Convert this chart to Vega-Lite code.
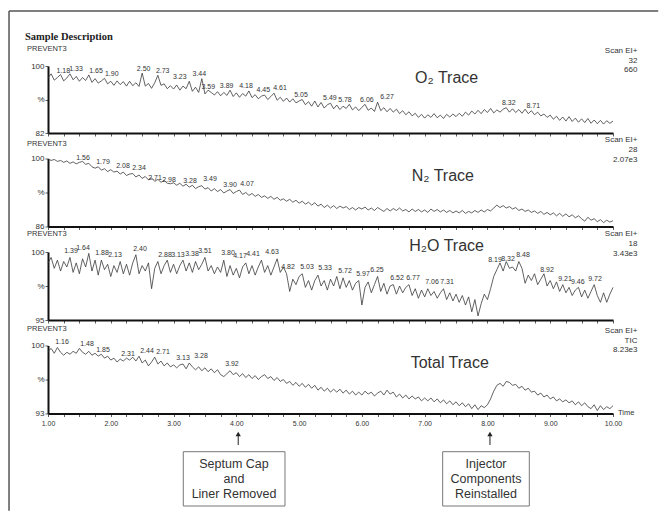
{
"$schema":"https://vega.github.io/schema/vega-lite/v6.json",
"padding":{"left":8,"top":10,"right":0,"bottom":0},
"background":"white",
"bounds":"flush",
"spacing":25.5,
"config":{"view":{"stroke":null},"axis":{"grid":false,"domainColor":"#111","domainWidth":2,"tickColor":"#333","tickWidth":0.8,"labelColor":"#333","labelFont":"Liberation Sans"},"text":{"font":"Liberation Sans"}},
"datasets":{
"tr":[
{"t":1.00,"o":96.8,"n":99.9,"h":99.2,"c":99.4},{"t":1.05,"o":97.9,"n":99.6,"h":99.6,"c":99.7},{"t":1.10,"o":96.2,"n":99.8,"h":98.8,"c":99.2},{"t":1.15,"o":96.9,"n":99.4,"h":99.4,"c":99.8},{"t":1.20,"o":97.7,"n":99.6,"h":98.6,"c":99.3},
{"t":1.25,"o":96.0,"n":99.2,"h":99.3,"c":99.0},{"t":1.30,"o":96.8,"n":99.5,"h":98.9,"c":99.3},{"t":1.35,"o":97.9,"n":99.0,"h":99.6,"c":99.1},{"t":1.40,"o":96.3,"n":99.3,"h":98.5,"c":99.4},{"t":1.45,"o":97.2,"n":98.9,"h":99.2,"c":99.2},
{"t":1.50,"o":95.9,"n":99.2,"h":98.4,"c":99.7},{"t":1.55,"o":96.9,"n":99.4,"h":99.5,"c":99.3},{"t":1.60,"o":96.1,"n":98.8,"h":98.9,"c":99.1},{"t":1.65,"o":97.6,"n":99.0,"h":99.9,"c":99.4},{"t":1.70,"o":95.6,"n":98.3,"h":98.6,"c":99.0},
{"t":1.75,"o":96.6,"n":98.0,"h":99.4,"c":99.2},{"t":1.80,"o":95.4,"n":98.3,"h":98.3,"c":98.9},{"t":1.85,"o":96.0,"n":97.6,"h":99.4,"c":99.1},{"t":1.90,"o":96.7,"n":97.9,"h":98.7,"c":98.7},{"t":1.95,"o":95.2,"n":97.3,"h":99.1,"c":98.9},
{"t":2.00,"o":95.9,"n":97.7,"h":98.2,"c":98.5},{"t":2.05,"o":94.8,"n":97.2,"h":99.0,"c":98.7},{"t":2.10,"o":96.0,"n":97.4,"h":98.5,"c":98.3},{"t":2.15,"o":95.0,"n":96.8,"h":99.3,"c":98.6},{"t":2.20,"o":95.8,"n":97.2,"h":98.4,"c":98.4},
{"t":2.25,"o":94.6,"n":96.5,"h":99.1,"c":98.7},{"t":2.30,"o":95.9,"n":96.8,"h":98.3,"c":98.5},{"t":2.35,"o":94.7,"n":96.9,"h":99.2,"c":98.8},{"t":2.40,"o":95.5,"n":96.2,"h":99.8,"c":98.4},{"t":2.45,"o":94.5,"n":96.6,"h":98.4,"c":98.9},
{"t":2.50,"o":98.1,"n":95.9,"h":99.0,"c":98.2},{"t":2.55,"o":94.6,"n":96.3,"h":98.6,"c":98.5},{"t":2.60,"o":95.3,"n":95.6,"h":99.2,"c":97.9},{"t":2.65,"o":94.0,"n":96.0,"h":97.3,"c":98.3},{"t":2.70,"o":95.5,"n":95.3,"h":98.8,"c":98.8},
{"t":2.75,"o":97.5,"n":95.7,"h":99.3,"c":98.1},{"t":2.80,"o":94.8,"n":95.1,"h":98.4,"c":98.4},{"t":2.85,"o":95.2,"n":95.5,"h":99.0,"c":97.9},{"t":2.90,"o":93.9,"n":94.9,"h":99.4,"c":98.2},{"t":2.95,"o":94.7,"n":94.8,"h":98.5,"c":97.8},
{"t":3.00,"o":93.8,"n":95.0,"h":99.1,"c":98.0},{"t":3.05,"o":94.9,"n":94.5,"h":98.4,"c":97.7},{"t":3.10,"o":93.5,"n":94.9,"h":99.0,"c":98.0},{"t":3.15,"o":94.6,"n":94.3,"h":99.4,"c":98.1},{"t":3.20,"o":93.9,"n":94.7,"h":98.6,"c":97.6},
{"t":3.25,"o":95.9,"n":94.1,"h":99.2,"c":98.2},{"t":3.30,"o":93.2,"n":94.5,"h":98.5,"c":97.8},{"t":3.35,"o":94.3,"n":93.8,"h":99.3,"c":97.5},{"t":3.40,"o":92.9,"n":94.2,"h":98.7,"c":97.8},{"t":3.45,"o":96.6,"n":94.4,"h":99.1,"c":97.4},
{"t":3.50,"o":92.5,"n":93.7,"h":99.6,"c":97.7},{"t":3.55,"o":93.5,"n":94.0,"h":98.6,"c":97.3},{"t":3.60,"o":92.9,"n":93.3,"h":99.0,"c":97.6},{"t":3.65,"o":92.2,"n":93.8,"h":98.4,"c":97.2},{"t":3.70,"o":93.1,"n":93.2,"h":98.9,"c":97.5},
{"t":3.75,"o":92.0,"n":93.6,"h":98.5,"c":97.0},{"t":3.80,"o":92.9,"n":92.9,"h":99.4,"c":96.8},{"t":3.85,"o":92.1,"n":93.3,"h":98.2,"c":97.1},{"t":3.90,"o":93.5,"n":93.6,"h":99.0,"c":97.4},{"t":3.95,"o":91.8,"n":92.8,"h":98.3,"c":97.0},
{"t":4.00,"o":92.8,"n":93.2,"h":98.8,"c":97.2},{"t":4.05,"o":91.6,"n":93.5,"h":98.1,"c":96.8},{"t":4.10,"o":92.6,"n":92.6,"h":98.9,"c":97.1},{"t":4.15,"o":91.9,"n":93.0,"h":99.2,"c":96.7},{"t":4.20,"o":93.3,"n":92.4,"h":98.4,"c":97.0},
{"t":4.25,"o":91.5,"n":92.8,"h":99.0,"c":96.6},{"t":4.30,"o":92.3,"n":92.2,"h":98.3,"c":96.9},{"t":4.35,"o":91.2,"n":92.6,"h":98.9,"c":96.5},{"t":4.40,"o":91.9,"n":92.0,"h":99.4,"c":96.8},{"t":4.45,"o":92.2,"n":92.3,"h":98.5,"c":97.0},
{"t":4.50,"o":91.0,"n":91.8,"h":99.0,"c":96.6},{"t":4.55,"o":91.8,"n":92.2,"h":98.3,"c":96.8},{"t":4.60,"o":92.7,"n":91.6,"h":98.9,"c":96.4},{"t":4.65,"o":90.8,"n":92.0,"h":99.5,"c":96.7},{"t":4.70,"o":91.6,"n":91.4,"h":98.5,"c":96.3},
{"t":4.75,"o":90.5,"n":91.7,"h":98.9,"c":96.5},{"t":4.80,"o":91.4,"n":91.2,"h":98.4,"c":96.1},{"t":4.85,"o":90.3,"n":91.6,"h":97.1,"c":96.3},{"t":4.90,"o":91.2,"n":91.0,"h":98.0,"c":95.9},{"t":4.95,"o":90.1,"n":91.4,"h":97.6,"c":96.2},
{"t":5.00,"o":90.6,"n":90.8,"h":98.2,"c":95.8},{"t":5.05,"o":91.0,"n":91.2,"h":98.4,"c":96.1},{"t":5.10,"o":89.6,"n":90.6,"h":97.4,"c":95.7},{"t":5.15,"o":90.4,"n":91.0,"h":97.9,"c":96.0},{"t":5.20,"o":89.2,"n":90.4,"h":97.2,"c":95.6},
{"t":5.25,"o":90.6,"n":90.9,"h":97.9,"c":95.9},{"t":5.30,"o":89.0,"n":90.2,"h":98.3,"c":95.4},{"t":5.35,"o":90.2,"n":90.6,"h":97.5,"c":95.7},{"t":5.40,"o":88.7,"n":89.9,"h":97.9,"c":95.3},{"t":5.45,"o":89.6,"n":90.4,"h":97.2,"c":95.6},
{"t":5.50,"o":90.0,"n":89.8,"h":98.0,"c":95.2},{"t":5.55,"o":88.5,"n":90.3,"h":97.5,"c":95.5},{"t":5.60,"o":89.5,"n":89.7,"h":98.2,"c":95.2},{"t":5.65,"o":88.3,"n":90.2,"h":97.3,"c":95.5},{"t":5.70,"o":89.2,"n":89.8,"h":98.1,"c":95.1},
{"t":5.75,"o":88.6,"n":90.1,"h":97.4,"c":95.4},{"t":5.80,"o":89.7,"n":89.5,"h":97.9,"c":95.0},{"t":5.85,"o":88.2,"n":89.9,"h":97.2,"c":95.3},{"t":5.90,"o":89.0,"n":89.4,"h":97.7,"c":94.9},{"t":5.95,"o":88.0,"n":89.9,"h":97.9,"c":95.2},
{"t":6.00,"o":88.9,"n":89.6,"h":96.1,"c":94.9},{"t":6.05,"o":89.7,"n":90.0,"h":97.4,"c":95.3},{"t":6.10,"o":88.1,"n":89.4,"h":97.8,"c":95.0},{"t":6.15,"o":88.7,"n":89.8,"h":97.0,"c":95.2},{"t":6.20,"o":87.8,"n":89.3,"h":97.6,"c":94.8},
{"t":6.25,"o":90.3,"n":89.9,"h":98.2,"c":95.1},{"t":6.30,"o":88.0,"n":89.5,"h":97.1,"c":95.3},{"t":6.35,"o":88.8,"n":89.1,"h":97.7,"c":94.9},{"t":6.40,"o":87.7,"n":89.7,"h":96.9,"c":95.4},{"t":6.45,"o":88.6,"n":89.2,"h":97.5,"c":95.0},
{"t":6.50,"o":87.6,"n":89.7,"h":97.6,"c":95.2},{"t":6.55,"o":88.4,"n":89.3,"h":96.9,"c":94.7},{"t":6.60,"o":87.2,"n":89.8,"h":97.5,"c":95.0},{"t":6.65,"o":88.0,"n":89.2,"h":97.0,"c":94.6},{"t":6.70,"o":86.9,"n":89.5,"h":97.4,"c":94.9},
{"t":6.75,"o":87.7,"n":89.0,"h":97.6,"c":94.5},{"t":6.80,"o":86.6,"n":89.6,"h":96.8,"c":94.8},{"t":6.85,"o":87.3,"n":89.1,"h":97.3,"c":94.5},{"t":6.90,"o":86.2,"n":89.5,"h":96.6,"c":94.7},{"t":6.95,"o":87.0,"n":89.0,"h":97.2,"c":94.3},
{"t":7.00,"o":86.0,"n":89.4,"h":96.7,"c":94.6},{"t":7.05,"o":86.9,"n":88.9,"h":97.3,"c":94.3},{"t":7.10,"o":86.2,"n":89.6,"h":96.8,"c":94.6},{"t":7.15,"o":87.2,"n":89.1,"h":97.1,"c":94.2},{"t":7.20,"o":86.1,"n":89.5,"h":96.6,"c":94.5},
{"t":7.25,"o":86.8,"n":89.0,"h":97.0,"c":94.1},{"t":7.30,"o":85.9,"n":89.4,"h":97.3,"c":94.4},{"t":7.35,"o":87.0,"n":88.9,"h":96.5,"c":94.0},{"t":7.40,"o":86.3,"n":89.3,"h":97.0,"c":94.3},{"t":7.45,"o":87.1,"n":88.8,"h":96.4,"c":93.9},
{"t":7.50,"o":86.4,"n":89.2,"h":96.9,"c":94.2},{"t":7.55,"o":87.3,"n":88.8,"h":96.3,"c":93.8},{"t":7.60,"o":86.5,"n":89.3,"h":96.8,"c":94.1},{"t":7.65,"o":87.6,"n":88.7,"h":96.1,"c":93.7},{"t":7.70,"o":86.8,"n":89.1,"h":96.7,"c":94.0},
{"t":7.75,"o":87.9,"n":88.8,"h":95.6,"c":93.5},{"t":7.80,"o":87.1,"n":89.3,"h":96.5,"c":93.9},{"t":7.85,"o":88.1,"n":88.9,"h":95.3,"c":93.4},{"t":7.90,"o":87.2,"n":89.4,"h":96.2,"c":93.8},{"t":7.95,"o":88.3,"n":89.0,"h":96.9,"c":93.6},
{"t":8.00,"o":87.5,"n":89.5,"h":96.5,"c":93.9},{"t":8.05,"o":88.6,"n":89.2,"h":97.3,"c":94.5},{"t":8.10,"o":87.4,"n":89.8,"h":98.2,"c":95.3},{"t":8.15,"o":88.2,"n":90.4,"h":98.7,"c":95.9},{"t":8.20,"o":87.6,"n":89.9,"h":99.2,"c":96.1},
{"t":8.25,"o":88.4,"n":90.3,"h":98.6,"c":95.8},{"t":8.30,"o":88.8,"n":89.8,"h":99.3,"c":96.3},{"t":8.35,"o":87.6,"n":90.1,"h":98.8,"c":96.2},{"t":8.40,"o":88.5,"n":89.6,"h":98.9,"c":95.9},{"t":8.45,"o":87.5,"n":89.9,"h":98.6,"c":96.0},
{"t":8.50,"o":88.3,"n":89.3,"h":99.3,"c":95.6},{"t":8.55,"o":87.3,"n":89.6,"h":98.8,"c":95.8},{"t":8.60,"o":88.4,"n":89.1,"h":97.7,"c":95.4},{"t":8.65,"o":87.2,"n":89.4,"h":98.3,"c":95.6},{"t":8.70,"o":88.0,"n":88.9,"h":97.9,"c":95.2},
{"t":8.75,"o":86.9,"n":89.2,"h":98.4,"c":95.3},{"t":8.80,"o":87.6,"n":88.7,"h":97.6,"c":94.9},{"t":8.85,"o":86.6,"n":89.1,"h":98.0,"c":95.1},{"t":8.90,"o":87.1,"n":88.5,"h":98.4,"c":94.7},{"t":8.95,"o":86.2,"n":88.9,"h":97.5,"c":94.9},
{"t":9.00,"o":86.8,"n":88.4,"h":97.9,"c":94.5},{"t":9.05,"o":85.7,"n":88.8,"h":97.3,"c":94.7},{"t":9.10,"o":86.5,"n":88.2,"h":97.8,"c":94.3},{"t":9.15,"o":85.4,"n":88.7,"h":97.1,"c":94.5},{"t":9.20,"o":86.3,"n":88.1,"h":97.6,"c":94.2},
{"t":9.25,"o":85.2,"n":88.6,"h":97.0,"c":94.4},{"t":9.30,"o":86.4,"n":88.0,"h":97.4,"c":94.1},{"t":9.35,"o":85.1,"n":88.4,"h":96.8,"c":94.3},{"t":9.40,"o":86.0,"n":87.8,"h":97.2,"c":93.9},{"t":9.45,"o":84.9,"n":88.2,"h":97.4,"c":94.2},
{"t":9.50,"o":85.8,"n":87.6,"h":96.7,"c":93.8},{"t":9.55,"o":84.8,"n":87.1,"h":97.2,"c":94.1},{"t":9.60,"o":85.9,"n":87.9,"h":96.6,"c":93.7},{"t":9.65,"o":84.6,"n":87.3,"h":97.1,"c":93.5},{"t":9.70,"o":85.5,"n":87.6,"h":97.6,"c":93.9},
{"t":9.75,"o":84.5,"n":87.0,"h":96.8,"c":93.3},{"t":9.80,"o":85.4,"n":87.4,"h":96.3,"c":93.8},{"t":9.85,"o":84.4,"n":86.8,"h":97.0,"c":93.4},{"t":9.90,"o":85.3,"n":87.3,"h":96.3,"c":93.7},{"t":9.95,"o":84.6,"n":86.9,"h":96.9,"c":93.5},
{"t":10.00,"o":85.2,"n":87.2,"h":97.4,"c":93.8}
],
"pk":[
{"p":"o","t":1.244,"v":98.7,"s":"1.18"},{"p":"o","t":1.446,"v":99.1,"s":"1.33"},{"p":"o","t":1.765,"v":98.7,"s":"1.65"},{"p":"o","t":2.015,"v":97.8,"s":"1.90"},{"p":"o","t":2.524,"v":99.1,"s":"2.50"},
{"p":"o","t":2.827,"v":98.7,"s":"2.73"},{"p":"o","t":3.10,"v":97.1,"s":"3.23"},{"p":"o","t":3.41,"v":97.8,"s":"3.44"},{"p":"o","t":3.553,"v":94.3,"s":"3.59"},{"p":"o","t":3.846,"v":94.7,"s":"3.89"},
{"p":"o","t":4.154,"v":94.6,"s":"4.18"},{"p":"o","t":4.43,"v":93.5,"s":"4.45"},{"p":"o","t":4.695,"v":94.0,"s":"4.61"},{"p":"o","t":5.03,"v":92.2,"s":"5.05"},{"p":"o","t":5.49,"v":91.3,"s":"5.49"},
{"p":"o","t":5.73,"v":91.0,"s":"5.78"},{"p":"o","t":6.08,"v":91.0,"s":"6.06"},{"p":"o","t":6.40,"v":91.6,"s":"6.27"},{"p":"o","t":8.34,"v":90.0,"s":"8.32"},{"p":"o","t":8.73,"v":89.2,"s":"8.71"},
{"p":"n","t":1.557,"v":100.1,"s":"1.56"},{"p":"n","t":1.876,"v":99.3,"s":"1.79"},{"p":"n","t":2.195,"v":98.5,"s":"2.08"},{"p":"n","t":2.45,"v":98.0,"s":"2.34"},{"p":"n","t":2.704,"v":96.0,"s":"2.71"},
{"p":"n","t":2.927,"v":95.6,"s":"2.98"},{"p":"n","t":3.262,"v":95.4,"s":"3.28"},{"p":"n","t":3.58,"v":95.8,"s":"3.49"},{"p":"n","t":3.90,"v":94.6,"s":"3.90"},{"p":"n","t":4.17,"v":94.8,"s":"4.07"},
{"p":"h","t":1.366,"v":100.05,"s":"1.39"},{"p":"h","t":1.557,"v":100.3,"s":"1.64"},{"p":"h","t":1.86,"v":99.9,"s":"1.88"},{"p":"h","t":2.067,"v":99.8,"s":"2.13"},{"p":"h","t":2.465,"v":100.2,"s":"2.40"},
{"p":"h","t":2.864,"v":99.8,"s":"2.88"},{"p":"h","t":3.07,"v":99.8,"s":"3.13"},{"p":"h","t":3.294,"v":99.85,"s":"3.38"},{"p":"h","t":3.50,"v":100.05,"s":"3.51"},{"p":"h","t":3.867,"v":99.9,"s":"3.80"},
{"p":"h","t":4.058,"v":99.7,"s":"4.17"},{"p":"h","t":4.265,"v":99.85,"s":"4.41"},{"p":"h","t":4.568,"v":99.98,"s":"4.63"},{"p":"h","t":4.823,"v":98.9,"s":"4.82"},{"p":"h","t":5.126,"v":98.9,"s":"5.03"},
{"p":"h","t":5.412,"v":98.8,"s":"5.33"},{"p":"h","t":5.731,"v":98.6,"s":"5.72"},{"p":"h","t":6.018,"v":98.4,"s":"5.97"},{"p":"h","t":6.24,"v":98.7,"s":"6.25"},{"p":"h","t":6.56,"v":98.1,"s":"6.52"},
{"p":"h","t":6.814,"v":98.1,"s":"6.77"},{"p":"h","t":7.117,"v":97.8,"s":"7.06"},{"p":"h","t":7.356,"v":97.8,"s":"7.31"},{"p":"h","t":8.12,"v":99.4,"s":"8.19"},{"p":"h","t":8.327,"v":99.5,"s":"8.32"},
{"p":"h","t":8.566,"v":99.8,"s":"8.48"},{"p":"h","t":8.948,"v":98.7,"s":"8.92"},{"p":"h","t":9.235,"v":98.0,"s":"9.21"},{"p":"h","t":9.44,"v":97.8,"s":"9.46"},{"p":"h","t":9.713,"v":98.0,"s":"9.72"},
{"p":"c","t":1.223,"v":100.34,"s":"1.16"},{"p":"c","t":1.621,"v":100.18,"s":"1.48"},{"p":"c","t":1.876,"v":99.56,"s":"1.85"},{"p":"c","t":2.274,"v":99.15,"s":"2.31"},{"p":"c","t":2.577,"v":99.4,"s":"2.44"},
{"p":"c","t":2.832,"v":99.3,"s":"2.71"},{"p":"c","t":3.15,"v":98.7,"s":"3.13"},{"p":"c","t":3.437,"v":98.9,"s":"3.28"},{"p":"c","t":3.93,"v":98.1,"s":"3.92"}
],
"tx":[
{"p":"o","k":"ti","t":7.35,"v":96.9,"s":"O₂ Trace"},
{"p":"o","k":"sc","t":10.39,"v":104.0,"s":"Scan EI+"},{"p":"o","k":"sc","t":10.39,"v":101.4,"s":"32"},{"p":"o","k":"sc","t":10.39,"v":98.9,"s":"660"},
{"p":"o","k":"pv","t":0.666,"v":104.6,"s":"PREVENT3"},
{"p":"o","k":"hd","t":0.634,"v":107.9,"s":"Sample Description"},
{"p":"n","k":"ti","t":7.29,"v":96.3,"s":"N₂ Trace"},
{"p":"n","k":"sc","t":10.39,"v":103.9,"s":"Scan EI+"},{"p":"n","k":"sc","t":10.39,"v":101.7,"s":"28"},{"p":"n","k":"sc","t":10.39,"v":99.6,"s":"2.07e3"},
{"p":"n","k":"pv","t":0.666,"v":102.9,"s":"PREVENT3"},
{"p":"h","k":"ti","t":7.35,"v":100.46,"s":"H₂O Trace"},
{"p":"h","k":"sc","t":10.39,"v":101.3,"s":"Scan EI+"},{"p":"h","k":"sc","t":10.39,"v":100.6,"s":"18"},{"p":"h","k":"sc","t":10.39,"v":99.85,"s":"3.43e3"},
{"p":"h","k":"pv","t":0.666,"v":101.3,"s":"PREVENT3"},
{"p":"c","k":"ti","t":7.40,"v":98.2,"s":"Total Trace"},
{"p":"c","k":"sc","t":10.39,"v":101.5,"s":"Scan EI+"},{"p":"c","k":"sc","t":10.39,"v":100.5,"s":"TIC"},{"p":"c","k":"sc","t":10.39,"v":99.5,"s":"8.23e3"},
{"p":"c","k":"pv","t":0.666,"v":101.65,"s":"PREVENT3"},
{"p":"c","k":"pv","t":10.08,"v":93.03,"s":"Time"}
],
"fr":[
{"t":0.379,"t2":0.379,"v":114.78,"v2":-19.5},
{"t":0.379,"t2":10.72,"v":114.78,"v2":114.78}
],
"an":[
{"t":4.03,"a":3.155,"b":4.775,"c":3.963,"s":"Septum Cap\nand\nLiner Removed"},
{"t":8.04,"a":7.287,"b":8.667,"c":7.977,"s":"Injector\nComponents\nReinstalled"}
]
},
"vconcat":[
{
"width":565,"height":67,
"encoding":{
"x":{"field":"t","type":"quantitative","scale":{"domain":[1,10],"nice":false,"zero":false},"axis":{"title":null,"labels":false,"tickSize":3,"values":[1,1.25,1.5,1.75,2,2.25,2.5,2.75,3,3.25,3.5,3.75,4,4.25,4.5,4.75,5,5.25,5.5,5.75,6,6.25,6.5,6.75,7,7.25,7.5,7.75,8,8.25,8.5,8.75,9,9.25,9.5,9.75,10]}},
"y":{"field":"v","type":"quantitative","scale":{"domain":[82,100],"nice":false,"zero":false},"axis":{"title":null,"values":[82,91,100],"format":"d","labelExpr":"datum.value == 91 ? '%' : datum.label","tickSize":3,"labelPadding":1,"labelFontSize":8}}
},
"layer":[
{"data":{"name":"fr"},"mark":{"type":"rule","color":"#555","strokeWidth":1.5},"encoding":{"x2":{"field":"t2"},"y2":{"field":"v2"}}},
{"data":{"name":"tr"},"transform":[{"fold":["o","n","h","c"],"as":["p","v"]},{"filter":"datum.p=='o'"}],"mark":{"type":"line","color":"#3a3a3a","strokeWidth":0.8}},
{"data":{"name":"pk"},"transform":[{"filter":"datum.p=='o'"}],"mark":{"type":"text","fontSize":7,"color":"#333"},"encoding":{"text":{"field":"s"}}},
{"data":{"name":"tx"},"transform":[{"filter":"datum.p=='o' && datum.k=='ti'"}],"mark":{"type":"text","fontSize":16,"color":"#333"},"encoding":{"text":{"field":"s"}}},
{"data":{"name":"tx"},"transform":[{"filter":"datum.p=='o' && datum.k=='sc'"}],"mark":{"type":"text","fontSize":8,"align":"right","color":"#333"},"encoding":{"text":{"field":"s"}}},
{"data":{"name":"tx"},"transform":[{"filter":"datum.p=='o' && datum.k=='pv'"}],"mark":{"type":"text","fontSize":7.5,"align":"left","color":"#333"},"encoding":{"text":{"field":"s"}}},
{"data":{"name":"tx"},"transform":[{"filter":"datum.p=='o' && datum.k=='hd'"}],"mark":{"type":"text","fontSize":10.5,"align":"left","font":"Liberation Serif","fontWeight":"bold","color":"#222"},"encoding":{"text":{"field":"s"}}}
]
},
{
"width":565,"height":68,
"encoding":{
"x":{"field":"t","type":"quantitative","scale":{"domain":[1,10],"nice":false,"zero":false},"axis":{"title":null,"labels":false,"tickSize":3,"values":[1,1.25,1.5,1.75,2,2.25,2.5,2.75,3,3.25,3.5,3.75,4,4.25,4.5,4.75,5,5.25,5.5,5.75,6,6.25,6.5,6.75,7,7.25,7.5,7.75,8,8.25,8.5,8.75,9,9.25,9.5,9.75,10]}},
"y":{"field":"v","type":"quantitative","scale":{"domain":[86,100],"nice":false,"zero":false},"axis":{"title":null,"values":[86,93,100],"format":"d","labelExpr":"datum.value == 93 ? '%' : datum.label","tickSize":3,"labelPadding":1,"labelFontSize":8}}
},
"layer":[
{"data":{"name":"tr"},"transform":[{"fold":["o","n","h","c"],"as":["p","v"]},{"filter":"datum.p=='n'"}],"mark":{"type":"line","color":"#3a3a3a","strokeWidth":0.8}},
{"data":{"name":"pk"},"transform":[{"filter":"datum.p=='n'"}],"mark":{"type":"text","fontSize":7,"color":"#333"},"encoding":{"text":{"field":"s"}}},
{"data":{"name":"tx"},"transform":[{"filter":"datum.p=='n' && datum.k=='ti'"}],"mark":{"type":"text","fontSize":16,"color":"#333"},"encoding":{"text":{"field":"s"}}},
{"data":{"name":"tx"},"transform":[{"filter":"datum.p=='n' && datum.k=='sc'"}],"mark":{"type":"text","fontSize":8,"align":"right","color":"#333"},"encoding":{"text":{"field":"s"}}},
{"data":{"name":"tx"},"transform":[{"filter":"datum.p=='n' && datum.k=='pv'"}],"mark":{"type":"text","fontSize":7.5,"align":"left","color":"#333"},"encoding":{"text":{"field":"s"}}}
]
},
{
"width":565,"height":68,
"encoding":{
"x":{"field":"t","type":"quantitative","scale":{"domain":[1,10],"nice":false,"zero":false},"axis":{"title":null,"labels":false,"tickSize":3,"values":[1,1.25,1.5,1.75,2,2.25,2.5,2.75,3,3.25,3.5,3.75,4,4.25,4.5,4.75,5,5.25,5.5,5.75,6,6.25,6.5,6.75,7,7.25,7.5,7.75,8,8.25,8.5,8.75,9,9.25,9.5,9.75,10]}},
"y":{"field":"v","type":"quantitative","scale":{"domain":[95,100],"nice":false,"zero":false},"axis":{"title":null,"values":[95,97.5,100],"format":"d","labelExpr":"datum.value == 97.5 ? '%' : datum.label","tickSize":3,"labelPadding":1,"labelFontSize":8}}
},
"layer":[
{"data":{"name":"tr"},"transform":[{"fold":["o","n","h","c"],"as":["p","v"]},{"filter":"datum.p=='h'"}],"mark":{"type":"line","color":"#3a3a3a","strokeWidth":0.8}},
{"data":{"name":"pk"},"transform":[{"filter":"datum.p=='h'"}],"mark":{"type":"text","fontSize":7,"color":"#333"},"encoding":{"text":{"field":"s"}}},
{"data":{"name":"tx"},"transform":[{"filter":"datum.p=='h' && datum.k=='ti'"}],"mark":{"type":"text","fontSize":16,"color":"#333"},"encoding":{"text":{"field":"s"}}},
{"data":{"name":"tx"},"transform":[{"filter":"datum.p=='h' && datum.k=='sc'"}],"mark":{"type":"text","fontSize":8,"align":"right","color":"#333"},"encoding":{"text":{"field":"s"}}},
{"data":{"name":"tx"},"transform":[{"filter":"datum.p=='h' && datum.k=='pv'"}],"mark":{"type":"text","fontSize":7.5,"align":"left","color":"#333"},"encoding":{"text":{"field":"s"}}}
]
},
{
"width":565,"height":68,
"encoding":{
"x":{"field":"t","type":"quantitative","scale":{"domain":[1,10],"nice":false,"zero":false},"axis":{"title":null,"tickSize":3,"labelFontSize":7,"labelPadding":3,"labelOverlap":false,"labelFlush":false,"labelBound":false,"labelExpr":"datum.value % 1 == 0 ? format(datum.value, '.2f') : ''","values":[1,1.25,1.5,1.75,2,2.25,2.5,2.75,3,3.25,3.5,3.75,4,4.25,4.5,4.75,5,5.25,5.5,5.75,6,6.25,6.5,6.75,7,7.25,7.5,7.75,8,8.25,8.5,8.75,9,9.25,9.5,9.75,10]}},
"y":{"field":"v","type":"quantitative","scale":{"domain":[93,100],"nice":false,"zero":false},"axis":{"title":null,"values":[93,96.5,100],"format":"d","labelExpr":"datum.value == 96.5 ? '%' : datum.label","tickSize":3,"labelPadding":1,"labelFontSize":8}}
},
"layer":[
{"data":{"name":"tr"},"transform":[{"fold":["o","n","h","c"],"as":["p","v"]},{"filter":"datum.p=='c'"}],"mark":{"type":"line","color":"#3a3a3a","strokeWidth":0.8}},
{"data":{"name":"pk"},"transform":[{"filter":"datum.p=='c'"}],"mark":{"type":"text","fontSize":7,"color":"#333"},"encoding":{"text":{"field":"s"}}},
{"data":{"name":"tx"},"transform":[{"filter":"datum.p=='c' && datum.k=='ti'"}],"mark":{"type":"text","fontSize":16,"color":"#333"},"encoding":{"text":{"field":"s"}}},
{"data":{"name":"tx"},"transform":[{"filter":"datum.p=='c' && datum.k=='sc'"}],"mark":{"type":"text","fontSize":8,"align":"right","color":"#333"},"encoding":{"text":{"field":"s"}}},
{"data":{"name":"tx"},"transform":[{"filter":"datum.p=='c' && datum.k=='pv'"}],"mark":{"type":"text","fontSize":7.5,"align":"left","color":"#333"},"encoding":{"text":{"field":"s"}}}
]
},
{
"width":565,"height":74,
"data":{"name":"an"},
"encoding":{"x":{"field":"t","type":"quantitative","scale":{"domain":[1,10],"nice":false,"zero":false},"axis":null}},
"layer":[
{"mark":{"type":"rule","color":"#222","strokeWidth":1},"encoding":{"y":{"datum":-4,"type":"quantitative","scale":{"domain":[0,74],"reverse":true,"nice":false,"zero":false},"axis":null},"y2":{"datum":6}}},
{"mark":{"type":"point","shape":"triangle-up","filled":true,"size":28,"color":"#222","opacity":1},"encoding":{"y":{"datum":-5,"type":"quantitative","scale":{"domain":[0,74],"reverse":true,"nice":false,"zero":false},"axis":null}}},
{"mark":{"type":"rect","fill":"white","stroke":"#777","strokeWidth":1},"encoding":{"x":{"field":"a","type":"quantitative","scale":{"domain":[1,10],"nice":false,"zero":false},"axis":null},"x2":{"field":"b"},"y":{"datum":12.7,"type":"quantitative","scale":{"domain":[0,74],"reverse":true,"nice":false,"zero":false},"axis":null},"y2":{"datum":67}}},
{"mark":{"type":"text","fontSize":12.5,"lineBreak":"\n","lineHeight":15,"color":"#333"},"encoding":{"x":{"field":"c","type":"quantitative","scale":{"domain":[1,10],"nice":false,"zero":false},"axis":null},"y":{"datum":25.3,"type":"quantitative","scale":{"domain":[0,74],"reverse":true,"nice":false,"zero":false},"axis":null},"text":{"field":"s"}}}
]
}
]
}
